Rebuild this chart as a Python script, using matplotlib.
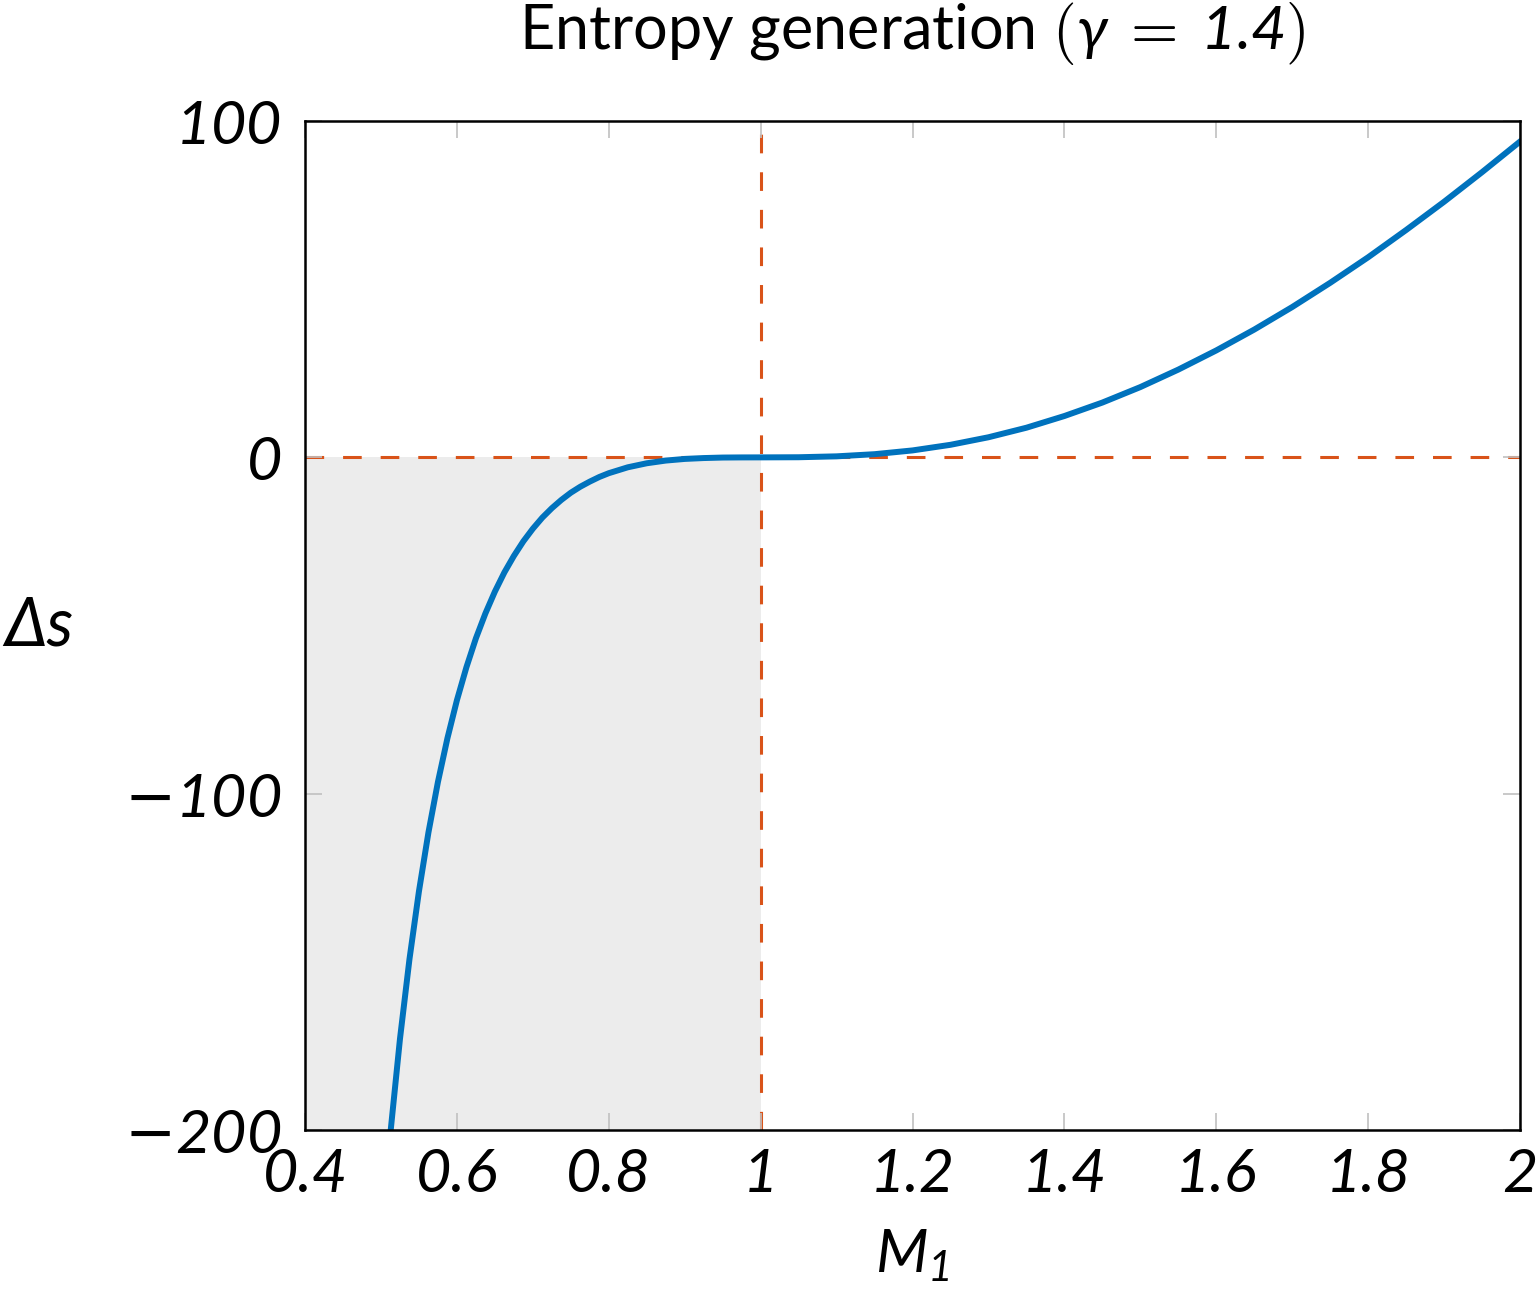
import numpy as np
import matplotlib
matplotlib.use("Agg")
import matplotlib.pyplot as plt

plt.rcParams['font.family'] = ['Lato', 'DejaVu Sans']
plt.rcParams['mathtext.fontset'] = 'custom'
plt.rcParams['mathtext.rm'] = 'Lato'
plt.rcParams['mathtext.it'] = 'Lato:italic'
plt.rcParams['mathtext.bf'] = 'Lato:italic'   # used for italic digits
plt.rcParams['mathtext.sf'] = 'DejaVu Sans'
plt.rcParams['mathtext.cal'] = 'cmr10'

# Mach number before the shock and entropy change
mach = [0.5, 0.5125, 0.525, 0.5375, 0.55, 0.5625, 0.575, 0.5875, 0.6, 0.6125,
        0.625, 0.6375, 0.65, 0.6625, 0.675, 0.6875, 0.7, 0.7125, 0.725, 0.7375,
        0.75, 0.7625, 0.775, 0.7875, 0.8, 0.825, 0.85, 0.875, 0.9, 0.925,
        0.95, 0.975, 1.0, 1.05, 1.1, 1.15, 1.2, 1.25, 1.3, 1.35,
        1.4, 1.45, 1.5, 1.55, 1.6, 1.65, 1.7, 1.75, 1.8, 1.85,
        1.9, 1.95, 2.0]
ds = [-233.6, -200.7, -172.9, -149.2, -129.0, -111.5, -96.5, -83.5, -72.2, -62.4,
      -53.8, -46.4, -39.9, -34.2, -29.3, -24.95, -21.2, -17.9, -15.1, -12.65,
      -10.5, -8.72, -7.2, -5.83, -4.7, -2.95, -1.75, -0.95, -0.46, -0.2,
      -0.05, -0.01, 0.0, 0.04, 0.31, 0.95, 2.07, 3.74, 5.98, 8.82,
      12.3, 16.3, 20.9, 26.1, 31.8, 38.0, 44.7, 51.9, 59.5, 67.6,
      76.0, 84.8, 93.9]

xticks = [0.4, 0.6, 0.8, 1.0, 1.2, 1.4, 1.6, 1.8, 2.0]
xlabels = ['0.4', '0.6', '0.8', '1', '1.2', '1.4', '1.6', '1.8', '2']
yticks = [-200, -100, 0, 100]
ylabels = [r'$\mathsf{-}\mathbf{200}$', r'$\mathsf{-}\mathbf{100}$',
           r'$\mathbf{0}$', r'$\mathbf{100}$']

blue = '#0072BD'
orange = '#D95319'

fig = plt.figure(figsize=(15.36, 12.89), dpi=100)
ax = fig.add_axes([0.1986, 0.1233, 0.791, 0.7828])

ax.fill_between([0.4, 1.0], -200, 0, color='#ececec', lw=0, zorder=0)
ax.axhline(0, color=orange, lw=2.2, dashes=(6.1, 6.2), zorder=1)
ax.axvline(1.0, color=orange, lw=2.2, dashes=(6.1, 6.2), zorder=1)
ax.plot(mach, ds, color=blue, lw=4.3, zorder=3)

ax.set_xlim(0.4, 2.0)
ax.set_ylim(-200, 100)
ax.set_xticks(xticks)
ax.set_xticklabels(xlabels, fontsize=44, fontstyle='italic')
ax.set_yticks(yticks)
ax.set_yticklabels(ylabels, fontsize=44)
ax.tick_params(direction='in', length=12, width=1.2, color='#c0c0c0',
               top=True, right=True)
ax.tick_params(axis='x', pad=13)
ax.tick_params(axis='y', pad=17)
for s in ax.spines.values():
    s.set_linewidth(1.8)
    s.set_zorder(4)

ax.set_xlabel(r'$\mathit{M}_{\mathbf{1}}$', fontsize=44, labelpad=18)
ax.set_ylabel('\u0394s', fontsize=48, fontstyle='italic', rotation=0,
              ha='center', va='center')
ax.yaxis.set_label_coords(-0.219, 0.4995)
ax.set_title(r'Entropy generation $\mathcal{(}\gamma\;\mathcal{=}\;\mathbf{1.4}\mathcal{)}$',
             fontsize=44, pad=52)

fig.savefig('out.png', dpi=100)
